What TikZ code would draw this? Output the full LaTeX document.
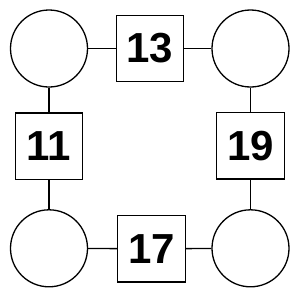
\documentclass[tikz,border=0pt]{standalone}
\usepackage{fontspec}
\setmainfont{Liberation Sans}
\begin{document}
\begin{tikzpicture}[x=1pt,y=-1pt,
  circ/.style={draw,circle,minimum size=77pt,inner sep=0pt,line width=1.3pt},
  sq/.style={draw,rectangle,minimum width=67.5pt,minimum height=66.5pt,inner sep=0pt,line width=1.3pt,font=\fontsize{42}{42}\selectfont\bfseries},
  link/.style={line width=1.3pt}]
\useasboundingbox (0,0) rectangle (300,300);
\node[circ] (tl) at (49,48.5) {};
\node[circ] (tr) at (250.5,48.5) {};
\node[circ] (bl) at (49,248.3) {};
\node[circ] (br) at (250.5,248.3) {};
\node[sq] (t) at (150,48.5) {13};
\node[sq] (l) at (49,146.3) {11};
\node[sq] (r) at (250.5,145.7) {19};
\node[sq] (b) at (151.5,248.8) {17};
\draw[link] (tl) -- (t);
\draw[link] (t) -- (tr);
\draw[link] (tl) -- (l);
\draw[link] (l) -- (bl);
\draw[link] (tr) -- (r);
\draw[link] (r) -- (br);
\draw[link] (bl) -- (b);
\draw[link] (b) -- (br);
\end{tikzpicture}
\end{document}
